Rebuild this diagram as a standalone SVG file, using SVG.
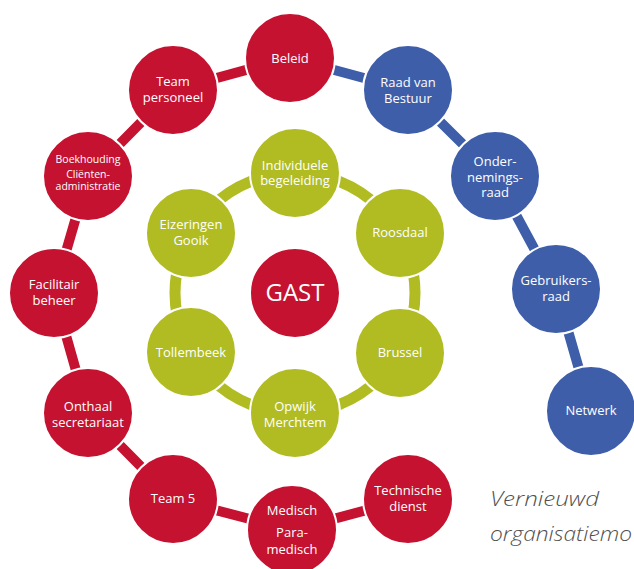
<svg xmlns="http://www.w3.org/2000/svg" width="634" height="569" viewBox="0 0 634 569">
<style>
.r{fill:#C41230}.b{fill:#3E5EAA}.g{fill:#B0BC22}
circle{stroke:#fff;stroke-width:2}
.cr{stroke:#C41230;stroke-width:10;fill:none}
.cb{stroke:#3E5EAA;stroke-width:10;fill:none}
text{font-family:"Open Sans","Noto Sans",sans-serif;font-size:13px;fill:#fff;text-anchor:middle}
.s{font-size:10.5px}
.big{font-size:24px}
.t{font-style:italic;font-weight:300;fill:#505050;text-anchor:start;font-size:21px}
</style>
<rect width="634" height="569" fill="#fff"/>
<g id="connectors">
<circle cx="295" cy="293" r="120" style="fill:none;stroke:#B0BC22;stroke-width:11"/>
<polyline class="cr" points="290,58 173,90 88,176 54,293 88,413 173,499 292,530 408,499"/>
<polyline class="cb" points="290,58 408,90 495,176 556,289 591,411"/>
</g>
<g id="beleid"><circle class="r" cx="290" cy="58" r="45"/><text x="290" y="63">Beleid</text></g>
<g id="team-personeel"><circle class="r" cx="173" cy="90" r="45"/><text x="173" y="86">Team</text><text x="173" y="102">personeel</text></g>
<g id="boekhouding"><circle class="r" cx="88" cy="176" r="45"/><text class="s" x="88" y="163">Boekhouding</text><text class="s" x="88" y="178">Cliënten-</text><text class="s" x="88" y="189.5">administratie</text></g>
<g id="facilitair"><circle class="r" cx="54" cy="293" r="45"/><text x="54" y="289">Facilitair</text><text x="54" y="305">beheer</text></g>
<g id="onthaal"><circle class="r" cx="88" cy="413" r="45"/><text x="88" y="411">Onthaal</text><text x="88" y="427">secretariaat</text></g>
<g id="team5"><circle class="r" cx="173" cy="499" r="45"/><text x="173" y="503">Team 5</text></g>
<g id="medisch"><circle class="r" cx="292" cy="530" r="45"/><text x="292" y="515">Medisch</text><text x="292" y="537">Para-</text><text x="292" y="554">medisch</text></g>
<g id="technische"><circle class="r" cx="408" cy="499" r="45"/><text x="408" y="495">Technische</text><text x="408" y="511">dienst</text></g>
<g id="raad-van-bestuur"><circle class="b" cx="408" cy="90" r="45"/><text x="408" y="87">Raad van</text><text x="408" y="103">Bestuur</text></g>
<g id="ondernemingsraad"><circle class="b" cx="495" cy="176" r="45"/><text x="495" y="166">Onder-</text><text x="495" y="181.5">nemings-</text><text x="495" y="197">raad</text></g>
<g id="gebruikersraad"><circle class="b" cx="556" cy="289" r="45"/><text x="556" y="285">Gebruikers-</text><text x="556" y="301">raad</text></g>
<g id="netwerk"><circle class="b" cx="591" cy="411" r="45"/><text x="591" y="415">Netwerk</text></g>
<g id="individuele"><circle class="g" cx="295" cy="173" r="45"/><text x="295" y="170">Individuele</text><text x="295" y="185">begeleiding</text></g>
<g id="roosdaal"><circle class="g" cx="400" cy="233" r="45"/><text x="400" y="237">Roosdaal</text></g>
<g id="brussel"><circle class="g" cx="400" cy="353" r="45"/><text x="400" y="357">Brussel</text></g>
<g id="opwijk"><circle class="g" cx="295" cy="413" r="45"/><text x="295" y="411">Opwijk</text><text x="295" y="427">Merchtem</text></g>
<g id="tollembeek"><circle class="g" cx="191" cy="352" r="45"/><text x="191" y="357">Tollembeek</text></g>
<g id="eizeringen"><circle class="g" cx="191" cy="233" r="45"/><text x="191" y="229">Eizeringen</text><text x="191" y="245">Gooik</text></g>
<g id="gast"><circle class="r" cx="295" cy="293" r="45"/><text class="big" x="295" y="301">GAST</text></g>
<g id="title"><text class="t" x="490" y="506" textLength="109" lengthAdjust="spacingAndGlyphs">Vernieuwd</text><text class="t" x="490" y="541" textLength="142" lengthAdjust="spacingAndGlyphs">organisatiemo</text></g>
</svg>
